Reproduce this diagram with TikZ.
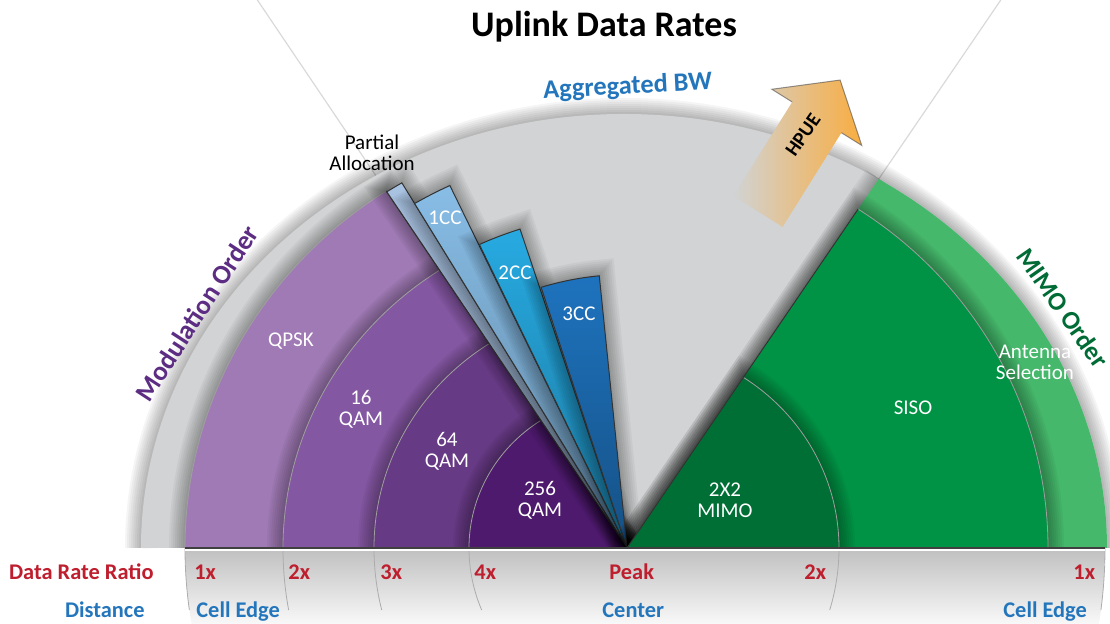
\documentclass[tikz,border=0pt]{standalone}
\usepackage{fontspec}
\setmainfont{Carlito}

\definecolor{bggray}{HTML}{D1D3D4}
\definecolor{qpsk}{HTML}{A07AB5}
\definecolor{qamA}{HTML}{8457A2}
\definecolor{qamB}{HTML}{663A84}
\definecolor{qamC}{HTML}{4E1A6D}
\definecolor{partial}{HTML}{A9C3E2}
\definecolor{ccA}{HTML}{88BDE6}
\definecolor{ccB}{HTML}{27AAE1}
\definecolor{ccC}{HTML}{1E73BE}
\definecolor{ltgreen}{HTML}{45B86B}
\definecolor{siso}{HTML}{009345}
\definecolor{mimo}{HTML}{006F35}
\definecolor{ratiored}{HTML}{BE1E2D}
\definecolor{distblue}{HTML}{2476BC}
\definecolor{modpurple}{HTML}{5C2D83}
\definecolor{mimogreen}{HTML}{006B35}
\definecolor{hpueorange}{HTML}{F9AD41}

% soft dark edge under a shape
\newcommand\softshadow[1]{\foreach \w in {2,4,...,16}{\draw[black,opacity=.04,line width=\w pt] #1;}}

\tikzset{
  ringlabel/.style={text=white,inner sep=0pt,align=center,font=\fontsize{10.5}{10.5}\selectfont},
  ratiolabel/.style={text=ratiored,inner sep=0pt,anchor=base west,font=\bfseries\fontsize{11.2}{12}\selectfont},
  distlabel/.style={text=distblue,inner sep=0pt,anchor=base west,font=\bfseries\fontsize{11.2}{12}\selectfont},
  ringedge/.style={draw=gray!75,line width=.4pt},
  wedgeedge/.style={draw=gray!40!black,line width=.5pt},
}

\begin{document}
\begin{tikzpicture}[x=0.5pt,y=0.5pt]
  \useasboundingbox (-627,-76) rectangle (483,548);
  \coordinate (Origin) at (0,0);
  \coordinate (lefttip) at (124:430.5);
  \coordinate (lefttop) at (124:661);
  \coordinate (righttip) at (55.7:447);
  \coordinate (righttop) at (55.7:663.4);
  % rays and grey half ellipse
  \draw[gray!30,line width=.6pt] (lefttip) -- (lefttop);
  \draw[gray!30,line width=.6pt] (righttip) -- (righttop);
  \softshadow{(-486,0) arc[start angle=180,end angle=0,x radius=483,y radius=434]}
  \fill[bggray] (-486,0) arc[start angle=180,end angle=0,x radius=483,y radius=434] -- cycle;
  % light green outer ring
  \softshadow{(Origin) -- (righttip)}
  \begin{scope}
    \clip (Origin) -- (55.7:700) -- (0:700) -- cycle;
    \fill[ltgreen] (-3,0) ellipse[x radius=483,y radius=434];
  \end{scope}
  \begin{scope}[yscale=.963]
    % modulation rings
    \foreach \r/\c in {442/qpsk,344/qamA,253/qamB,158/qamC}{
      \softshadow{(180:\r) arc[start angle=180,end angle=123,radius=\r] -- (Origin)}
      \fill[\c] (Origin) -- (180:\r) arc[start angle=180,end angle=123,radius=\r] -- cycle;
      \draw[ringedge] (180:\r) arc[start angle=180,end angle=123,radius=\r];
    }
    \draw[wedgeedge] (Origin) -- (123:442);
    % aggregated bandwidth slivers
    \foreach \a/\b/\r/\c in {120.7/123/441/partial,115.2/120.7/416/ccA,107.9/115.1/348/ccB,95.6/107.6/284/ccC}{
      \softshadow{(Origin) -- (\b:\r) arc[start angle=\b,end angle=\a,radius=\r] -- cycle}
      \shade[top color=\c,bottom color=\c!70!black,wedgeedge] (Origin) -- (\b:\r) arc[start angle=\b,end angle=\a,radius=\r] -- cycle;
    }
    % mimo rings
    \foreach \r/\c in {421/siso,212/mimo}{
      \softshadow{(Origin) -- (56.7:\r) arc[start angle=56.7,end angle=0,radius=\r]}
      \fill[\c] (Origin) -- (56.7:\r) arc[start angle=56.7,end angle=0,radius=\r] -- cycle;
      \draw[ringedge] (56.7:\r) arc[start angle=56.7,end angle=0,radius=\r];
    }
    \draw[wedgeedge] (Origin) -- (56.7:421);
  \end{scope}
  % HPUE arrow
  \begin{scope}[shift={(131,336.5)},rotate=58]
    \shade[left color=bggray,right color=hpueorange] (0,-29) -- (111,-29) -- (111,-53) -- (155,0)
      -- (111,53) -- (111,29) -- (0,29) -- cycle;
    \draw[gray!60!black,line width=.5pt,opacity=.6] (111,-29) -- (111,-53) -- (155,0) -- (111,53) -- (111,29);
  \end{scope}
  % floor band
  \shade[top color=gray!50,bottom color=gray!5] (180:442) arc[start angle=180,end angle=189.9,radius=442]
    -- (-9.15:478) arc[start angle=-9.15,end angle=0,radius=478] -- cycle;
  \foreach \r in {442,344,253,158}
    \draw[gray!65] (180:\r) arc[start angle=180,end angle={180+asin(62/\r)},radius=\r];
  \foreach \r in {212,478}
    \draw[gray!65] (0:\r) arc[start angle=0,end angle={-asin(62/\r)},radius=\r];
  \draw[white,line width=1.2pt] (-442,-2.2) -- (478,-2.2);
  \draw[gray!50!black,line width=.6pt] (-442,0) -- (478,0);

  % texts
  \node[anchor=base,inner sep=0pt,font=\bfseries\fontsize{18}{20}\selectfont] (title) at (-23,511) {Uplink Data Rates};
  \node[anchor=base,inner sep=0pt,rotate=3,text=distblue,font=\bfseries\fontsize{13.2}{15}\selectfont] (aggbw) at (1,454) {Aggregated BW};
  \node[align=center,inner sep=0pt,font=\fontsize{10.5}{10.5}\selectfont] (partial) at (-255,395) {Partial\\Allocation};
  \node[rotate=57,text=modpurple,inner sep=0pt,font=\bfseries\fontsize{13.5}{14}\selectfont] (modorder) at (-430,235) {Modulation Order};
  \node[rotate=-55,text=mimogreen,inner sep=0pt,font=\bfseries\fontsize{13}{14}\selectfont] (mimoorder) at (436,240) {MIMO Order};
  \node[rotate=55,inner sep=0pt,font=\bfseries\fontsize{10}{12}\selectfont] (hpue) at (176,413) {HPUE};

  \node[ringlabel] (qpsklbl) at (-336,207) {QPSK};
  \node[ringlabel] (qam16) at (-266,139) {16\\QAM};
  \node[ringlabel] (qam64) at (-180,97) {64\\QAM};
  \node[ringlabel] (qam256) at (-87,48) {256\\QAM};
  \node[ringlabel] (cc1) at (-182,330) {1CC};
  \node[ringlabel] (cc2) at (-112,275) {2CC};
  \node[ringlabel] (cc3) at (-48,234) {3CC};
  \node[ringlabel] (mimo2x2) at (98,48) {2X2\\MIMO};
  \node[ringlabel] (siso) at (286,140) {SISO};
  \node[ringlabel] (antsel) at (408,186) {Antenna\\Selection};

  \node[ratiolabel,anchor=base east] (rateratio) at (-473,-32) {Data Rate Ratio};
  \node[distlabel,anchor=base east] (distance) at (-482,-70) {Distance};
  \node[ratiolabel] (ratioA) at (-433,-32) {1x};
  \node[ratiolabel] (ratioB) at (-339,-32) {2x};
  \node[ratiolabel] (ratioC) at (-247,-32) {3x};
  \node[ratiolabel] (ratioD) at (-153,-32) {4x};
  \node[ratiolabel] (peak) at (-18,-32) {Peak};
  \node[ratiolabel] (ratioE) at (177,-32) {2x};
  \node[ratiolabel] (ratioF) at (446,-32) {1x};
  \node[distlabel] (celledgeL) at (-431,-70) {Cell Edge};
  \node[distlabel] (center) at (-25,-70) {Center};
  \node[distlabel] (celledgeR) at (376,-70) {Cell Edge};
\end{tikzpicture}
\end{document}
